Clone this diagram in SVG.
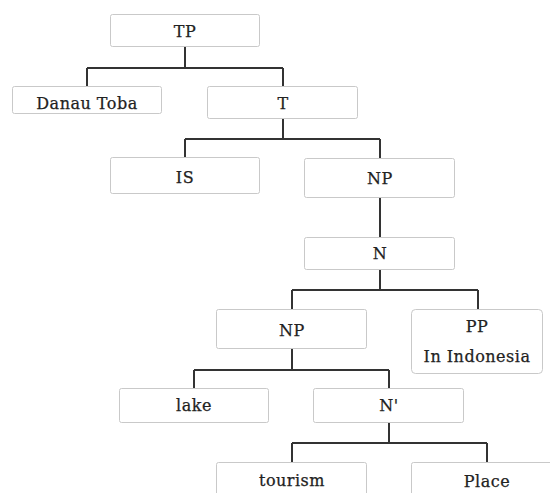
<svg xmlns="http://www.w3.org/2000/svg" width="550" height="493" viewBox="0 0 550 493">
<style>
.box{fill:#fff;stroke:#c9c9c9;stroke-width:1}
.lbl{font-family:"DejaVu Serif","Liberation Serif",serif;font-size:16px;letter-spacing:0.5px;fill:#222;stroke:#222;stroke-width:0.25;text-anchor:middle}
.conn{fill:none;stroke:#333;stroke-width:2}
</style>
<rect width="550" height="493" fill="#fff"/>
<g id="connectors">
<path class="conn" d="M185,46V68M87,68H283M87,68V86M283,68V86"/>
<path class="conn" d="M283,118V139M185,139H380M185,139V157M380,139V158"/>
<path class="conn" d="M380,197V237"/>
<path class="conn" d="M380,269V290M292,290H478M292,290V309M478,290V309"/>
<path class="conn" d="M292,348V370M194,370H389M194,370V388M389,370V388"/>
<path class="conn" d="M389,422V443M292,443H487M292,443V462M487,443V462"/>
</g>
<g id="TP"><rect class="box" x="110.5" y="14.5" width="149" height="32" rx="2"/><text class="lbl" x="185" y="37">TP</text></g>
<g id="DanauToba"><rect class="box" x="12.5" y="86.5" width="149" height="27" rx="2"/><text class="lbl" x="87" y="109">Danau Toba</text></g>
<g id="T"><rect class="box" x="207.5" y="86.5" width="150" height="32" rx="2"/><text class="lbl" x="283" y="109">T</text></g>
<g id="IS"><rect class="box" x="110.5" y="157.5" width="149" height="36" rx="2"/><text class="lbl" x="185" y="183">IS</text></g>
<g id="NP1"><rect class="box" x="304.5" y="158.5" width="150" height="39" rx="2"/><text class="lbl" x="380" y="184">NP</text></g>
<g id="N"><rect class="box" x="304.5" y="237.5" width="150" height="32" rx="2"/><text class="lbl" x="380" y="259">N</text></g>
<g id="NP2"><rect class="box" x="216.5" y="309.5" width="150" height="39" rx="2"/><text class="lbl" x="292" y="336">NP</text></g>
<g id="PP"><rect class="box" x="411.5" y="309.5" width="131" height="64" rx="4"/><text class="lbl" x="477" y="332">PP</text><text class="lbl" x="477" y="362">In Indonesia</text></g>
<g id="lake"><rect class="box" x="119.5" y="388.5" width="149" height="34" rx="2"/><text class="lbl" x="194" y="411">lake</text></g>
<g id="Nbar"><rect class="box" x="313.5" y="388.5" width="150" height="34" rx="2"/><text class="lbl" x="389" y="411">N'</text></g>
<g id="tourism"><rect class="box" x="216.5" y="462.5" width="150" height="40" rx="2"/><text class="lbl" x="292" y="486">tourism</text></g>
<g id="Place"><rect class="box" x="411.5" y="462.5" width="151" height="40" rx="2"/><text class="lbl" x="487" y="487">Place</text></g>
</svg>
